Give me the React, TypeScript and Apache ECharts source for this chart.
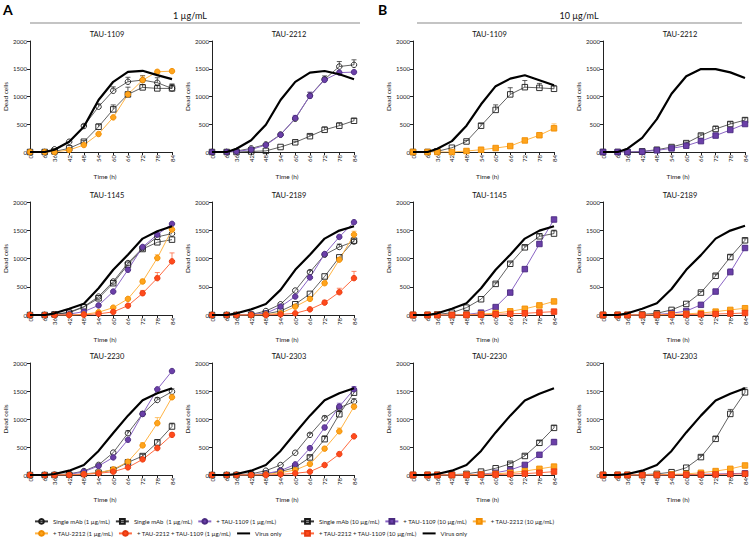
import React, { useEffect, useRef } from "react";
import * as echarts from "echarts";

const HOURS = [0, 6, 36, 42, 48, 54, 60, 66, 72, 78, 84];

// A1 TAU-1109 (1 µg/mL)
const a1109Circle = [0, 0, 48, 185, 468, 816, 1104, 1266, 1296, 1248, 1146];
const a1109CircleErr = [0, 0, 0, 0, 30, 50, 70, 80, 80, 90, 70];
const a1109Square = [0, 0, 10, 66, 185, 455, 768, 1038, 1164, 1146, 1146];
const a1109SquareErr = [0, 0, 0, 0, 20, 50, 80, 130, 50, 60, 80];
const a1109Plus2212 = [0, 0, 0, 36, 126, 324, 624, 1038, 1296, 1445, 1457];
const a1109Plus2212Err = [0, 0, 0, 0, 0, 0, 0, 40, 70, 30, 30];
const a1109Virus = [0, 0, 40, 185, 455, 936, 1265, 1445, 1463, 1386, 1314];
// A2 TAU-2212 (1 µg/mL)
const a2212Circle = [0, 0, 18, 65, 136, 314, 599, 1014, 1311, 1540, 1571];
const a2212CircleErr = [0, 0, 0, 0, 0, 0, 40, 60, 60, 90, 90];
const a2212Square = [0, 0, 0, 10, 20, 90, 175, 285, 400, 474, 563];
const a2212SquareErr = [0, 0, 0, 0, 0, 0, 20, 30, 50, 50, 40];
const a2212Plus1109 = [0, 0, 10, 45, 125, 310, 610, 1010, 1300, 1430, 1440];
const a2212Plus1109Err = [0, 0, 0, 0, 0, 20, 50, 70, 40, 30, 20];
const a2212Virus = [0, 0, 59, 213, 492, 937, 1263, 1429, 1459, 1400, 1311];
// B1 TAU-1109 (10 µg/mL)
const b1109Square = [0, 0, 12, 77, 190, 474, 759, 1038, 1168, 1156, 1139];
const b1109SquareErr = [0, 0, 0, 0, 20, 40, 90, 120, 120, 80, 60];
const b1109Plus2212 = [0, 0, 0, 0, 18, 41, 71, 107, 208, 302, 427];
const b1109Plus2212Err = [0, 0, 0, 0, 0, 0, 0, 20, 20, 30, 80];
const b1109Virus = [0, 0, 59, 196, 474, 860, 1186, 1322, 1382, 1293, 1204];
// B2 TAU-2212 (10 µg/mL)
const b2212Square = [0, 0, 0, 12, 41, 89, 160, 296, 415, 504, 575];
const b2212SquareErr = [0, 0, 0, 0, 0, 10, 20, 30, 50, 40, 40];
const b2212Plus1109 = [0, 0, 0, 5, 30, 65, 113, 196, 296, 397, 504];
const b2212Plus1109Err = [0, 0, 0, 0, 0, 0, 10, 20, 20, 20, 30];
const b2212Virus = [0, 0, 59, 255, 593, 1050, 1364, 1494, 1494, 1435, 1334];
// A3 TAU-1145
const a1145Circle = [0, 0, 10, 50, 148, 326, 593, 919, 1186, 1382, 1441];
const a1145Square = [0, 0, 10, 40, 140, 296, 563, 890, 1168, 1287, 1334];
const a1145Plus1109 = [0, 0, 0, 15, 60, 170, 415, 800, 1204, 1423, 1613];
const a1145Plus2212 = [0, 0, 0, 0, 10, 50, 130, 285, 593, 1008, 1512];
const a1145Plus2212Err = [0, 0, 0, 0, 0, 0, 20, 20, 40, 60, 30];
const a1145Plus2212Plus1109 = [0, 0, 0, 0, 5, 20, 55, 165, 385, 652, 949];
const a1145Plus2212Plus1109Err = [0, 0, 0, 0, 0, 0, 0, 20, 50, 100, 150];
const a1145Virus = [0, 0, 30, 110, 200, 474, 800, 1067, 1352, 1482, 1570];
// A4 TAU-2189
const a2189Circle = [0, 0, 0, 10, 70, 190, 433, 759, 1067, 1204, 1300];
const a2189CircleErr = [0, 0, 0, 0, 0, 0, 0, 30, 40, 50, 40];
const a2189Square = [0, 0, 0, 5, 20, 70, 190, 374, 682, 1020, 1316];
const a2189Plus1109 = [0, 0, 0, 10, 30, 148, 326, 664, 1079, 1382, 1643];
const a2189Plus2212 = [0, 0, 0, 0, 10, 30, 148, 285, 563, 978, 1423];
const a2189Plus2212Err = [0, 0, 0, 0, 0, 0, 0, 20, 30, 40, 60];
const a2189Plus2212Plus1109 = [0, 0, 0, 0, 0, 10, 30, 100, 219, 403, 652];
const a2189Plus2212Plus1109Err = [0, 0, 0, 0, 0, 0, 0, 20, 40, 70, 120];
const a2189Virus = [0, 0, 30, 100, 196, 445, 800, 1067, 1352, 1494, 1570];
// B3 TAU-1145 (10)
const b1145Square = [0, 0, 10, 40, 130, 279, 551, 907, 1198, 1393, 1441];
const b1145SquareErr = [0, 0, 0, 0, 0, 0, 20, 30, 30, 40, 60];
const b1145Plus1109 = [0, 0, 0, 0, 10, 41, 140, 397, 812, 1257, 1690];
const b1145Plus1109Err = [0, 0, 0, 0, 0, 0, 0, 20, 30, 40, 30];
const b1145Plus2212 = [0, 0, 0, 0, 5, 15, 35, 65, 110, 170, 240];
const b1145Plus2212Plus1109 = [0, 0, 0, 0, 0, 5, 12, 20, 30, 45, 60];
const b1145Virus = [0, 0, 30, 110, 207, 474, 800, 1067, 1352, 1494, 1570];
// B4 TAU-2189 (10)
const b2189Square = [0, 0, 0, 10, 30, 90, 196, 397, 694, 1026, 1322];
const b2189SquareErr = [0, 0, 0, 0, 0, 0, 0, 20, 30, 40, 30];
const b2189Plus1109 = [0, 0, 0, 0, 10, 30, 70, 180, 415, 759, 1186];
const b2189Plus1109Err = [0, 0, 0, 0, 0, 0, 0, 20, 30, 60, 40];
const b2189Plus2212 = [0, 0, 0, 0, 5, 10, 20, 35, 60, 90, 120];
const b2189Plus2212Plus1109 = [0, 0, 0, 0, 0, 5, 8, 12, 18, 25, 35];
const b2189Virus = [0, 0, 30, 110, 207, 460, 800, 1060, 1352, 1494, 1580];
// A5 TAU-2230
const a2230Circle = [0, 0, 5, 20, 70, 180, 400, 747, 1091, 1340, 1488];
const a2230CircleErr = [0, 0, 0, 0, 0, 0, 0, 40, 40, 40, 50];
const a2230Square = [0, 0, 0, 5, 20, 42, 89, 225, 338, 581, 866];
const a2230SquareErr = [0, 0, 0, 0, 0, 0, 0, 20, 30, 50, 60];
const a2230Plus1109 = [0, 0, 0, 10, 60, 160, 314, 629, 1091, 1530, 1856];
const a2230Plus2212 = [0, 0, 0, 5, 15, 40, 100, 237, 528, 925, 1388];
const a2230Plus2212Err = [0, 0, 0, 0, 0, 0, 0, 30, 50, 100, 40];
const a2230Plus2212Plus1109 = [0, 0, 0, 0, 10, 30, 59, 136, 279, 480, 717];
const a2230Plus2212Plus1109Err = [0, 0, 0, 0, 0, 0, 0, 0, 30, 40, 40];
const a2230Virus = [0, 0, 18, 77, 178, 430, 750, 1060, 1335, 1460, 1548];
// A6 TAU-2303
const a2303Circle = [0, 0, 5, 20, 77, 178, 397, 717, 1014, 1200, 1310];
const a2303CircleErr = [0, 0, 0, 0, 0, 0, 0, 30, 40, 50, 50];
const a2303Square = [0, 0, 0, 5, 20, 60, 136, 314, 640, 1085, 1470];
const a2303SquareErr = [0, 0, 0, 0, 0, 0, 0, 30, 60, 60, 40];
const a2303Plus1109 = [0, 0, 0, 5, 25, 77, 190, 480, 848, 1222, 1530];
const a2303Plus1109Err = [0, 0, 0, 0, 0, 0, 0, 30, 40, 60, 50];
const a2303Plus2212 = [0, 0, 0, 0, 10, 42, 89, 196, 470, 780, 1220];
const a2303Plus2212Err = [0, 0, 0, 0, 0, 0, 0, 20, 30, 60, 40];
const a2303Plus2212Plus1109 = [0, 0, 0, 0, 0, 10, 30, 59, 178, 373, 690];
const a2303Virus = [0, 0, 18, 77, 178, 430, 750, 1060, 1335, 1460, 1548];
// B5 TAU-2230 (10)
const b2230Square = [0, 0, 0, 5, 20, 60, 120, 200, 340, 575, 842];
const b2230SquareErr = [0, 0, 0, 0, 0, 0, 0, 20, 30, 40, 40];
const b2230Plus1109 = [0, 0, 0, 0, 5, 15, 40, 90, 180, 361, 587];
const b2230Plus1109Err = [0, 0, 0, 0, 0, 0, 0, 0, 20, 30, 50];
const b2230Plus2212 = [0, 0, 0, 0, 5, 10, 20, 40, 70, 110, 150];
const b2230Plus2212Plus1109 = [0, 0, 0, 0, 0, 5, 8, 15, 25, 40, 60];
const b2230Virus = [0, 0, 18, 77, 178, 430, 760, 1060, 1330, 1450, 1548];
// B6 TAU-2303 (10)
const b2303Square = [0, 0, 0, 5, 20, 50, 130, 320, 646, 1091, 1476];
const b2303SquareErr = [0, 0, 0, 0, 0, 0, 0, 30, 40, 80, 80];
const b2303Plus1109 = [0, 0, 0, 0, 0, 5, 8, 12, 18, 25, 30];
const b2303Plus2212 = [0, 0, 0, 0, 5, 10, 20, 40, 70, 110, 170];
const b2303Plus2212Plus1109 = [0, 0, 0, 0, 0, 0, 5, 8, 10, 15, 20];
const b2303Virus = [0, 0, 18, 77, 178, 430, 760, 1060, 1330, 1450, 1548];

const PANEL_TITLES = [
  "TAU-1109", "TAU-2212", "TAU-1109", "TAU-2212",
  "TAU-1145", "TAU-2189", "TAU-1145", "TAU-2189",
  "TAU-2230", "TAU-2303", "TAU-2230", "TAU-2303",
];

const N_A_CIRC = "Single mAb (1 µg/mL)";
const N_A_SQ = "Single mAb  (1 µg/mL)";
const N_A_1109 = "+ TAU-1109 (1 µg/mL)";
const N_A_2212 = "+ TAU-2212 (1 µg/mL)";
const N_A_BOTH = "+ TAU-2212 + TAU-1109 (1 µg/mL)";
const N_B_SQ = "Single mAb (10 µg/mL)";
const N_B_1109 = "+ TAU-1109 (10 µg/mL)";
const N_B_2212 = "+ TAU-2212 (10 µg/mL)";
const N_B_BOTH = "+ TAU-2212 + TAU-1109 (10 µg/mL)";
const N_VIRUS = "Virus only";

type Kind = "circ" | "sq" | "p1109" | "p2212" | "both" | "virus";
type Entry = [string, Kind, number[], number[]?];

const PANELS: Entry[][] = [
  [[N_A_CIRC, "circ", a1109Circle, a1109CircleErr], [N_A_SQ, "sq", a1109Square, a1109SquareErr], [N_A_2212, "p2212", a1109Plus2212, a1109Plus2212Err], [N_VIRUS, "virus", a1109Virus]],
  [[N_A_CIRC, "circ", a2212Circle, a2212CircleErr], [N_A_SQ, "sq", a2212Square, a2212SquareErr], [N_A_1109, "p1109", a2212Plus1109, a2212Plus1109Err], [N_VIRUS, "virus", a2212Virus]],
  [[N_B_SQ, "sq", b1109Square, b1109SquareErr], [N_B_2212, "p2212", b1109Plus2212, b1109Plus2212Err], [N_VIRUS, "virus", b1109Virus]],
  [[N_B_SQ, "sq", b2212Square, b2212SquareErr], [N_B_1109, "p1109", b2212Plus1109, b2212Plus1109Err], [N_VIRUS, "virus", b2212Virus]],
  [[N_A_CIRC, "circ", a1145Circle], [N_A_SQ, "sq", a1145Square], [N_A_1109, "p1109", a1145Plus1109], [N_A_2212, "p2212", a1145Plus2212, a1145Plus2212Err], [N_A_BOTH, "both", a1145Plus2212Plus1109, a1145Plus2212Plus1109Err], [N_VIRUS, "virus", a1145Virus]],
  [[N_A_CIRC, "circ", a2189Circle, a2189CircleErr], [N_A_SQ, "sq", a2189Square], [N_A_1109, "p1109", a2189Plus1109], [N_A_2212, "p2212", a2189Plus2212, a2189Plus2212Err], [N_A_BOTH, "both", a2189Plus2212Plus1109, a2189Plus2212Plus1109Err], [N_VIRUS, "virus", a2189Virus]],
  [[N_B_SQ, "sq", b1145Square, b1145SquareErr], [N_B_1109, "p1109", b1145Plus1109, b1145Plus1109Err], [N_B_2212, "p2212", b1145Plus2212], [N_B_BOTH, "both", b1145Plus2212Plus1109], [N_VIRUS, "virus", b1145Virus]],
  [[N_B_SQ, "sq", b2189Square, b2189SquareErr], [N_B_1109, "p1109", b2189Plus1109, b2189Plus1109Err], [N_B_2212, "p2212", b2189Plus2212], [N_B_BOTH, "both", b2189Plus2212Plus1109], [N_VIRUS, "virus", b2189Virus]],
  [[N_A_CIRC, "circ", a2230Circle, a2230CircleErr], [N_A_SQ, "sq", a2230Square, a2230SquareErr], [N_A_1109, "p1109", a2230Plus1109], [N_A_2212, "p2212", a2230Plus2212, a2230Plus2212Err], [N_A_BOTH, "both", a2230Plus2212Plus1109, a2230Plus2212Plus1109Err], [N_VIRUS, "virus", a2230Virus]],
  [[N_A_CIRC, "circ", a2303Circle, a2303CircleErr], [N_A_SQ, "sq", a2303Square, a2303SquareErr], [N_A_1109, "p1109", a2303Plus1109, a2303Plus1109Err], [N_A_2212, "p2212", a2303Plus2212, a2303Plus2212Err], [N_A_BOTH, "both", a2303Plus2212Plus1109], [N_VIRUS, "virus", a2303Virus]],
  [[N_B_SQ, "sq", b2230Square, b2230SquareErr], [N_B_1109, "p1109", b2230Plus1109, b2230Plus1109Err], [N_B_2212, "p2212", b2230Plus2212], [N_B_BOTH, "both", b2230Plus2212Plus1109], [N_VIRUS, "virus", b2230Virus]],
  [[N_B_SQ, "sq", b2303Square, b2303SquareErr], [N_B_1109, "p1109", b2303Plus1109], [N_B_2212, "p2212", b2303Plus2212], [N_B_BOTH, "both", b2303Plus2212Plus1109], [N_VIRUS, "virus", b2303Virus]],
];

const COL_LEFT = [30, 212, 413, 603];
const COL_WIDTH = [142, 142, 141, 142];
const ROW_TOP = [41, 202, 363];
const ROW_HEIGHT = [111, 113, 112];

const FONT = "Lato, 'Open Sans', sans-serif";

const STYLE: Record<Kind, { fill: string; border: string; line: string; width: number }> = {
  circ: { fill: "rgba(255,255,255,0)", border: "#1a1a1a", line: "#3a3a3a", width: 0.8 },
  sq: { fill: "rgba(255,255,255,0)", border: "#1a1a1a", line: "#3a3a3a", width: 0.8 },
  p1109: { fill: "#6b3fa8", border: "#4a2a80", line: "#8a64c4", width: 1 },
  p2212: { fill: "#ffa41c", border: "#f08c00", line: "#ffb445", width: 1 },
  both: { fill: "#ff4a1c", border: "#e63a10", line: "#ff6a40", width: 1 },
  virus: { fill: "rgba(0,0,0,0)", border: "rgba(0,0,0,0)", line: "#000", width: 2.2 },
};

export default function App() {
  const ref = useRef<HTMLDivElement>(null);
  useEffect(() => {
    if (!ref.current) return;
    const chart = echarts.init(ref.current, undefined, { renderer: "svg" });
    const grids: any[] = [];
    const xAxes: any[] = [];
    const yAxes: any[] = [];
    const series: any[] = [];
    const graphics: any[] = [];
    const txt = { fontFamily: FONT, color: "#222", fontWeight: "normal" };
    PANELS.forEach((panel, i) => {
      const r = Math.floor(i / 4);
      const c = i % 4;
      const isB = c >= 2;
      grids.push({ left: COL_LEFT[c], top: ROW_TOP[r], width: COL_WIDTH[c], height: ROW_HEIGHT[r], containLabel: false });
      xAxes.push({
        type: "value",
        gridIndex: i,
        min: 0,
        max: 84,
        interval: 6,
        breaks: [{ start: 6, end: 36, gap: 4 }],
        breakArea: { show: false },
        axisLine: { lineStyle: { color: "#222", width: 1 } },
        axisTick: { length: 3, lineStyle: { color: "#222", width: 1 } },
        axisLabel: { ...txt, rotate: 90, fontSize: 6, margin: 3, formatter: (v: number) => String(v) },
        splitLine: { show: false },
      });
      yAxes.push({
        type: "value",
        gridIndex: i,
        min: 0,
        max: 2000,
        interval: 500,
        name: "Dead cells",
        nameLocation: "middle",
        nameGap: 20,
        nameTextStyle: { ...txt, fontSize: 6.5 },
        axisLine: { show: true, lineStyle: { color: "#222", width: 1 } },
        axisTick: { show: true, length: 3, lineStyle: { color: "#222", width: 1 } },
        axisLabel: { ...txt, fontSize: 6, margin: 3, formatter: (v: number) => String(v) },
        splitLine: { show: false },
      });
      graphics.push({
        type: "text",
        x: COL_LEFT[c] + COL_WIDTH[c] / 2 + 6,
        y: ROW_TOP[r] - 3,
        style: { text: PANEL_TITLES[i], fontSize: 7.5, fontFamily: FONT, fontWeight: "normal", fill: "#111", textAlign: "center", textVerticalAlign: "bottom" },
      });
      graphics.push({
        type: "text",
        x: COL_LEFT[c] + COL_WIDTH[c] / 2 + 4,
        y: ROW_TOP[r] + ROW_HEIGHT[r] + 24,
        style: { text: "Time (h)", fontSize: 6.5, fontFamily: FONT, fontWeight: "normal", fill: "#222", textAlign: "center", textVerticalAlign: "middle" },
      });
      panel.forEach(([name, kind, vals, errs]) => {
        const st = STYLE[kind];
        const isVirus = kind === "virus";
        const sym = kind === "sq" || isB ? "rect" : "circle";
        if (errs) {
          series.push({
            type: "custom",
            name: name + "__err",
            xAxisIndex: i,
            yAxisIndex: i,
            z: 1,
            silent: true,
            data: HOURS.map((h, k) => [h, vals[k], vals[k] + errs[k]]).filter((d, k) => errs[k] > 0),
            renderItem: (params: any, api: any) => {
              const p0 = api.coord([api.value(0), api.value(1)]);
              const p1 = api.coord([api.value(0), api.value(2)]);
              const color = kind === "circ" || kind === "sq" ? "#333" : st.line;
              return {
                type: "group",
                children: [
                  { type: "line", shape: { x1: p0[0], y1: p0[1], x2: p1[0], y2: p1[1] }, style: { stroke: color, lineWidth: 0.8 } },
                  { type: "line", shape: { x1: p1[0] - 2.5, y1: p1[1], x2: p1[0] + 2.5, y2: p1[1] }, style: { stroke: color, lineWidth: 0.8 } },
                ],
              };
            },
          });
        }
        series.push({
          type: "line",
          name,
          xAxisIndex: i,
          yAxisIndex: i,
          data: HOURS.map((h, k) => [h, vals[k]]),
          showSymbol: !isVirus,
          symbol: isVirus ? "circle" : sym,
          symbolSize: isVirus ? 0 : 5.5,
          z: isVirus ? 3 : 2,
          lineStyle: { color: st.line, width: st.width },
          itemStyle: { color: st.fill, borderColor: st.border, borderWidth: isVirus ? 0 : 0.9 },
          emphasis: { disabled: true },
        });
      });
    });

    const legendCommon = {
      itemWidth: 13,
      itemHeight: 6,
      itemGap: 5,
      textStyle: { fontSize: 6, fontFamily: FONT, color: "#222" },
      orient: "horizontal",
      padding: 0,
    };
    const legends = [
      { ...legendCommon, left: 34, top: 518, data: [N_A_CIRC, N_A_SQ, N_A_1109] },
      { ...legendCommon, left: 34, top: 530, data: [N_A_2212, N_A_BOTH, N_VIRUS] },
      { ...legendCommon, left: 300, top: 518, data: [N_B_SQ, N_B_1109, N_B_2212] },
      { ...legendCommon, left: 300, top: 530, data: [N_B_BOTH, N_VIRUS] },
    ];

    graphics.push(
      { type: "text", x: 3, y: 2, style: { text: "A", fontSize: 14, fontWeight: "bold", fontFamily: FONT, fill: "#000" } },
      { type: "text", x: 378, y: 2, style: { text: "B", fontSize: 14, fontWeight: "bold", fontFamily: FONT, fill: "#000" } },
      { type: "text", x: 190, y: 15, style: { text: "1 µg/mL", fontSize: 9, fontFamily: FONT, fill: "#111", textAlign: "center", textVerticalAlign: "middle" } },
      { type: "text", x: 579, y: 15, style: { text: "10 µg/mL", fontSize: 9, fontFamily: FONT, fill: "#111", textAlign: "center", textVerticalAlign: "middle" } },
      { type: "line", shape: { x1: 30, y1: 23, x2: 360, y2: 23 }, style: { stroke: "#c4c4c4", lineWidth: 2 } },
      { type: "line", shape: { x1: 417, y1: 23, x2: 742, y2: 23 }, style: { stroke: "#c4c4c4", lineWidth: 2 } },
    );

    chart.setOption({
      animation: false,
      backgroundColor: "#fff",
      grid: grids,
      xAxis: xAxes,
      yAxis: yAxes,
      series,
      legend: legends,
      graphic: graphics,
    });
    return () => chart.dispose();
  }, []);
  return <div ref={ref} style={{ width: 750, height: 538, position: "absolute", left: 0, top: 0 }} />;
}
